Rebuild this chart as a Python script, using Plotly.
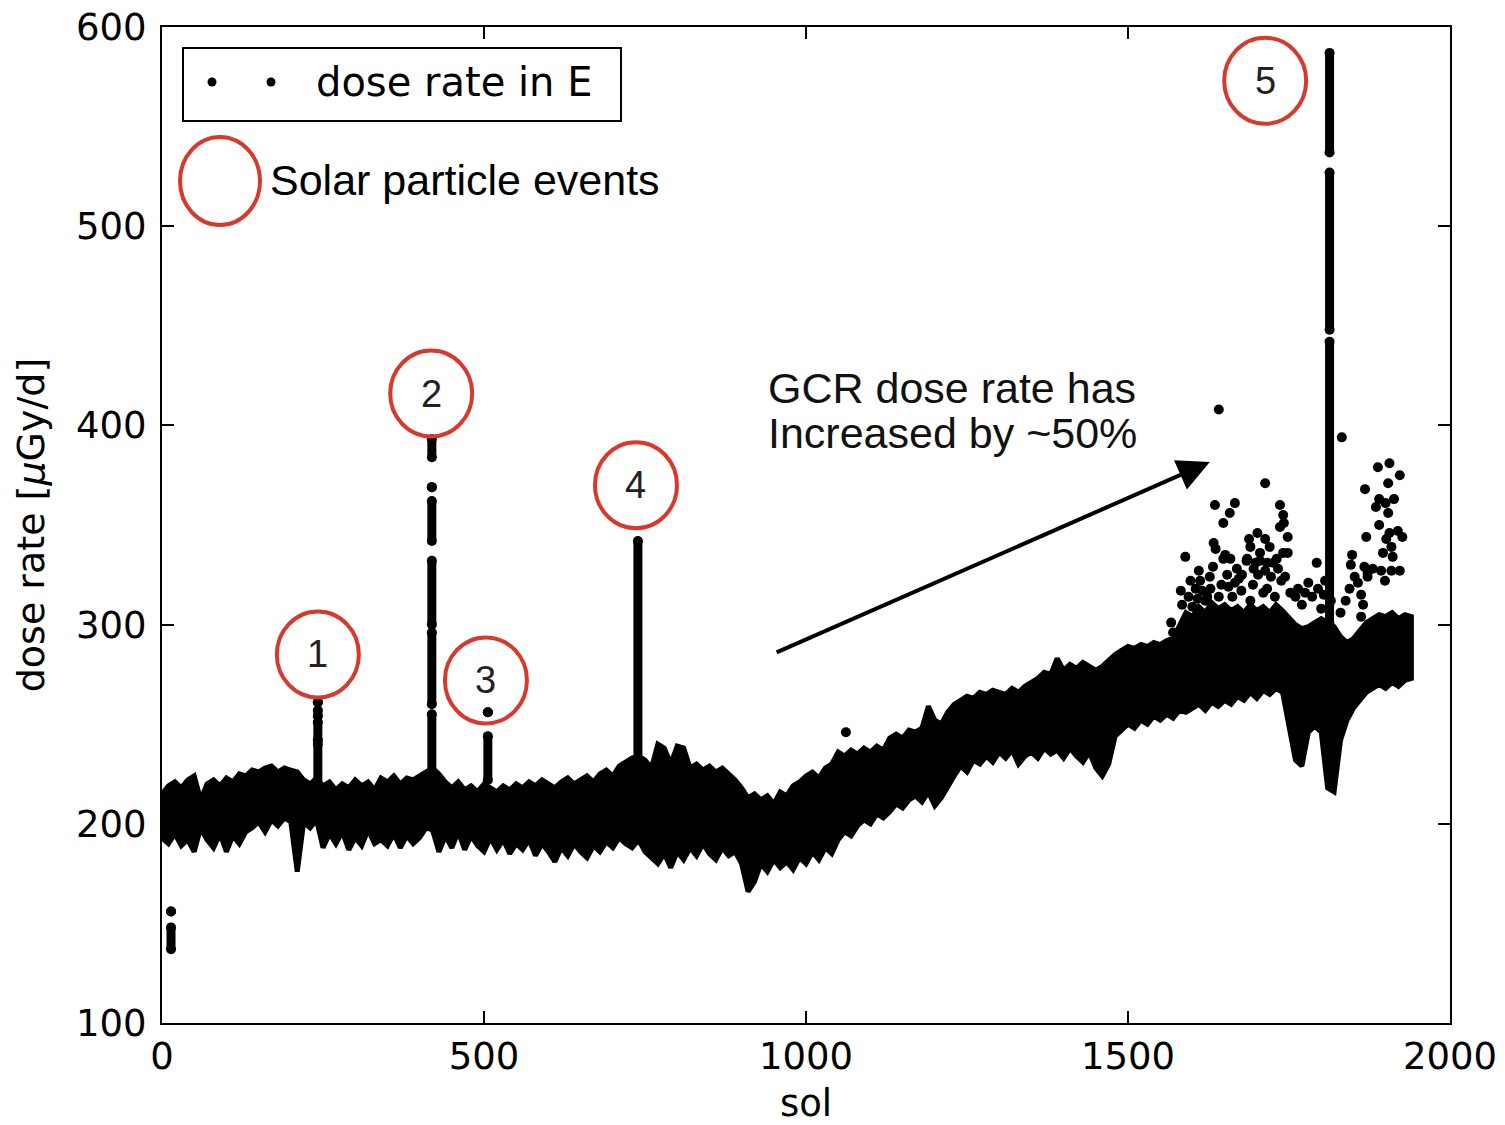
import plotly.graph_objects as go

# ---------------- data ----------------
# dense GCR band: upper / lower envelope of the dose-rate points every 10 sols
band_sol = list(range(0, 1950, 10))
band_hi = [215, 219, 221, 218, 222, 224, 212, 220, 222, 219,
           223, 221, 225, 224, 227, 226, 228, 229, 226, 228,
           227, 226, 222, 220, 223, 219, 221, 217, 220, 218,
           222, 219, 221, 217, 223, 221, 224, 220, 223, 222,
           224, 226, 228, 225, 221, 218, 221, 217, 219, 216,
           220, 218, 216, 219, 217, 220, 218, 221, 219, 222,
           220, 218, 221, 223, 220, 222, 224, 221, 225, 227,
           224, 229, 231, 233, 234, 232, 228, 240, 238, 230,
           239, 238, 228, 230, 227, 229, 226, 228, 225, 222,
           218, 213, 215, 212, 214, 210, 216, 214, 219, 221,
           224, 226, 223, 228, 230, 236, 234, 237, 235, 238,
           236, 239, 237, 243, 245, 243, 247, 246, 248, 259,
           252, 250, 256, 260, 262, 264, 263, 266, 265, 267,
           266, 265, 268, 266, 269, 271, 273, 276, 275, 283,
           277, 280, 278, 281, 279, 277, 279, 282, 285, 287,
           289, 288, 290, 289, 291, 290, 292, 293, 300, 306,
           304, 309, 306, 311, 308, 310, 307, 309, 306, 310,
           307, 309, 306, 310, 307, 303, 300, 298, 299, 301,
           303, 301, 299, 294, 291, 293, 297, 301, 303, 305,
           304, 306, 303, 305, 304]
band_lo = [193, 190, 195, 189, 192, 186, 198, 192, 188, 195,
           186, 194, 190, 196, 198, 201, 196, 202, 199, 203,
           201, 176, 201, 198, 202, 188, 195, 190, 196, 187,
           193, 189, 197, 190, 192, 189, 195, 188, 194, 190,
           193, 198, 197, 186, 194, 188, 196, 187, 194, 189,
           186, 193, 187, 192, 185, 190, 187, 192, 184, 190,
           186, 181, 188, 184, 190, 186, 183, 189, 186, 191,
           188, 193, 190, 188, 192, 186, 183, 180, 185, 178,
           186, 182, 188, 184, 190, 185, 182, 188, 184, 186,
           180, 166, 171, 180, 176, 182, 178, 181, 177, 183,
           180, 186, 182, 188, 185, 192, 196, 194, 199, 202,
           200, 205, 203, 206, 210, 208, 212, 214, 211, 216,
           209, 213, 218, 224, 229, 226, 232, 230, 234, 231,
           236, 233, 237, 230, 234, 236, 233, 238, 235, 237,
           233, 238, 234, 231, 236, 228, 224, 230, 244, 247,
           250, 248, 252, 250, 254, 252, 255, 253, 257, 256,
           258, 260, 257, 261, 259, 262, 260, 264, 262, 266,
           263, 267, 265, 268, 266, 250, 232, 229, 246, 249,
           246, 218, 216, 242, 252, 258, 262, 266, 268, 270,
           268, 271, 269, 272, 273]

# solar particle event spikes: vertical runs of points (sol, low value, high value)
spike_sol = [242, 242, 242, 242,
             419, 419, 419, 419, 419, 419,
             506, 506,
             739,
             1813, 1813, 1813,
             14, 14]
spike_lo = [261, 254, 242, 220,
            384, 369, 342, 300, 260, 225,
            256, 222,
            225,
            300, 448, 537,
            137, 156]
spike_hi = [261, 257, 251, 240,
            393, 369, 362, 332, 296, 255,
            256, 244,
            342,
            442, 527, 587,
            148, 156]

# isolated points above the band
pts_sol = [1062, 1641, 1832,
           1713, 1635, 1666, 1658, 1648, 1736, 1741, 1742, 1736, 1688,
           1701, 1713, 1690, 1705, 1720, 1685, 1698, 1716, 1731, 1633,
           1636, 1651, 1659, 1748, 1589, 1632, 1648, 1684, 1705, 1726,
           1741, 1748, 1793, 1677, 1672, 1713, 1733, 1744, 1582, 1605,
           1615, 1656, 1666, 1780, 1795, 1623, 1641, 1567, 1570, 1848,
           1846, 1868, 1870, 1867, 1872, 1888, 1906, 1922, 1904, 1890,
           1900, 1913, 1885, 1904, 1890, 1906, 1919, 1926, 1901, 1909,
           1911, 1896, 1880, 1872, 1893, 1909, 1922, 1899, 1857, 1862,
           1865, 1862, 1852, 1844, 1600, 1620, 1690, 1710, 1760, 1770,
           1815, 1830, 1800,
           1594, 1608, 1628, 1645, 1662, 1676, 1694, 1716, 1728, 1752,
           1764, 1786, 1804, 1838, 1612, 1654, 1702, 1738, 1775, 1806,
           1627, 1669, 1695, 1722, 1584, 1597, 1610]
pts_val = [246, 408, 394,
           371, 360, 361, 356, 351, 360, 355, 351, 349, 343,
           346, 343, 339, 336, 339, 333, 331, 331, 333, 341,
           338, 335, 333, 344, 334, 329, 333, 332, 332, 331,
           336, 336, 331, 325, 323, 327, 328, 324, 317, 318,
           317, 319, 321, 321, 318, 314, 314, 301, 296, 335,
           330, 368, 344, 329, 326, 379, 381, 375, 371, 363,
           361, 363, 359, 356, 350, 346, 347, 344, 343, 339,
           334, 336, 328, 324, 327, 327, 327, 322, 321, 315,
           310, 304, 324, 318, 309, 312, 312, 316, 314, 310,
           312, 306, 308,
           314, 313, 318, 320, 314, 317, 320, 318, 314, 316,
           318, 314, 315, 312, 322, 325, 325, 322, 316, 322,
           324, 328, 328, 324, 310, 322, 327]

# event labels (number, sol, dose rate at circle centre)
event_labels = ["1", "2", "3", "4", "5"]
event_sol = [242, 418, 503, 736, 1713]
event_val = [285, 416, 272, 370, 573]

x_ticks = [0, 500, 1000, 1500, 2000]
y_ticks = [100, 200, 300, 400, 500, 600]

RED = "#d63a2c"
TICKFONT = dict(family="DejaVu Sans", size=37, color="black")
ARIAL = "Liberation Sans, Arial, sans-serif"

fig = go.Figure()

# band polygon
fig.add_trace(go.Scatter(
    x=band_sol + band_sol[::-1],
    y=band_hi + band_lo[::-1],
    fill="toself", fillcolor="black", mode="lines",
    line=dict(color="black", width=5), hoverinfo="skip", showlegend=False))

# spikes
sx, sy = [], []
for s, lo, hi in zip(spike_sol, spike_lo, spike_hi):
    sx += [s, s, None]
    sy += [lo, hi, None]
fig.add_trace(go.Scatter(
    x=sx, y=sy, mode="lines+markers",
    line=dict(color="black", width=9),
    marker=dict(color="black", size=10),
    hoverinfo="skip", showlegend=False))

# scattered points
fig.add_trace(go.Scatter(
    x=pts_sol, y=pts_val, mode="markers",
    marker=dict(color="black", size=10),
    showlegend=False))

shapes = []
annotations = []

# numbered SEP circles
for lab, s, v in zip(event_labels, event_sol, event_val):
    shapes.append(dict(type="circle", xref="x", yref="y",
                       xsizemode="pixel", ysizemode="pixel",
                       xanchor=s, yanchor=v, x0=-41, x1=41, y0=-43, y1=43,
                       line=dict(color=RED, width=4)))
    annotations.append(dict(x=s, y=v, xref="x", yref="y", text=lab,
                            showarrow=False,
                            font=dict(family=ARIAL, size=38, color="#222")))

# legend box with two dots
shapes.append(dict(type="rect", xref="paper", yref="paper",
                   x0=(183 - 162) / 1288, x1=(621 - 162) / 1288,
                   y0=(1023 - 121) / 996, y1=(1023 - 48) / 996,
                   line=dict(color="black", width=2), fillcolor="white"))
for px in (212, 271):
    shapes.append(dict(type="circle", xref="paper", yref="paper",
                       x0=(px - 4.5 - 162) / 1288, x1=(px + 4.5 - 162) / 1288,
                       y0=(1023 - 86.5) / 996, y1=(1023 - 77.5) / 996,
                       fillcolor="black", line=dict(color="black", width=0)))
annotations.append(dict(xref="paper", yref="paper",
                        x=(314 - 162) / 1288, y=(1023 - 82) / 996,
                        xanchor="left", yanchor="middle", showarrow=False,
                        text="dose rate in E",
                        font=dict(family="DejaVu Sans", size=40, color="black")))

# legend circle for SEPs
shapes.append(dict(type="circle", xref="paper", yref="paper",
                   x0=(180 - 162) / 1288, x1=(260 - 162) / 1288,
                   y0=(1023 - 225) / 996, y1=(1023 - 137) / 996,
                   line=dict(color=RED, width=4)))
annotations.append(dict(xref="paper", yref="paper",
                        x=(268 - 162) / 1288, y=(1023 - 180) / 996,
                        xanchor="left", yanchor="middle", showarrow=False,
                        text="Solar particle events",
                        font=dict(family=ARIAL, size=43, color="black")))

# GCR text and arrow
annotations.append(dict(xref="paper", yref="paper",
                        x=(766 - 162) / 1288, y=(1023 - 388) / 996,
                        xanchor="left", yanchor="middle", showarrow=False,
                        text="GCR dose rate has",
                        font=dict(family=ARIAL, size=43, color="#111")))
annotations.append(dict(xref="paper", yref="paper",
                        x=(766 - 162) / 1288, y=(1023 - 433) / 996,
                        xanchor="left", yanchor="middle", showarrow=False,
                        text="Increased by ~50%",
                        font=dict(family=ARIAL, size=43, color="#111")))
annotations.append(dict(x=1627, y=381.6, xref="x", yref="y",
                        ax=952, ay=285.7, axref="x", ayref="y",
                        text="", showarrow=True, arrowhead=2,
                        arrowsize=1.6, arrowwidth=4, arrowcolor="black"))

fig.update_layout(
    width=1505, height=1125,
    margin=dict(l=162, r=55, t=27, b=102),
    paper_bgcolor="white", plot_bgcolor="white",
    shapes=shapes, annotations=annotations,
    showlegend=False,
    font=dict(family="DejaVu Sans", color="black"),
)
fig.update_xaxes(
    range=[0, 2000], tickvals=x_ticks, ticktext=[str(t) for t in x_ticks],
    ticks="inside", ticklen=12, tickwidth=1.5, tickcolor="black",
    showline=True, linecolor="black", linewidth=2, mirror="ticks",
    showgrid=False, zeroline=False, tickfont=TICKFONT,
    ticklabelstandoff=0, automargin=False,
    title=dict(text="sol", font=dict(family="DejaVu Sans", size=37), standoff=16))
fig.update_yaxes(
    range=[100, 600], tickvals=y_ticks, ticktext=[str(t) for t in y_ticks],
    ticks="inside", ticklen=12, tickwidth=1.5, tickcolor="black",
    showline=True, linecolor="black", linewidth=2, mirror="ticks",
    showgrid=False, zeroline=False, tickfont=TICKFONT,
    ticklabelstandoff=6, automargin=False,
    title=dict(text="dose rate [<i>μ</i>Gy/d]",
               font=dict(family="DejaVu Sans", size=38), standoff=20))

fig.write_html("out.html")
